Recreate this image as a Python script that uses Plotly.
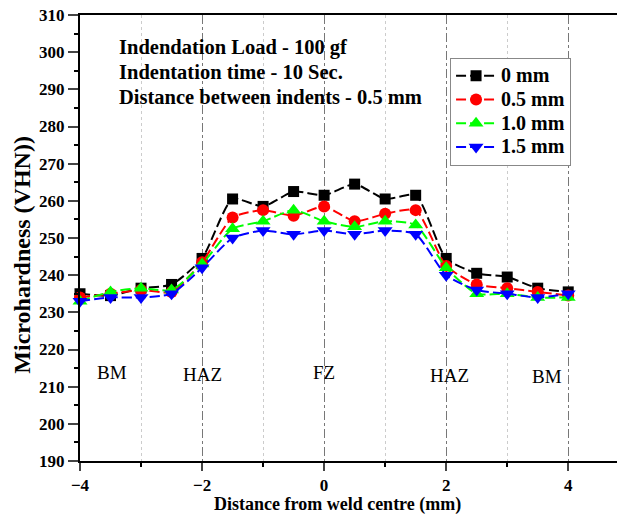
import plotly.graph_objects as go

x_mm = [-4, -3.5, -3, -2.5, -2, -1.5, -1, -0.5, 0, 0.5, 1, 1.5, 2, 2.5, 3, 3.5, 4]
hv_0 = [235, 234.5, 236.5, 237.5, 244.5, 260.5, 258.5, 262.5, 261.5, 264.5, 260.5, 261.5, 244.5, 240.5, 239.5, 236.5, 235.5]
hv_05 = [234, 235, 236, 235.5, 243.5, 255.5, 257.5, 256, 258.5, 254.5, 256.5, 257.5, 242.5, 237.5, 236.5, 235.5, 234.5]
hv_10 = [233, 235.5, 236.5, 236, 243, 252.5, 254.5, 257.5, 254.5, 253, 254.5, 253.5, 242, 235, 235, 234, 234]
hv_15 = [233, 234, 234, 235, 242, 250, 252, 251, 252, 251, 252, 251, 240, 236, 235, 234, 235]
series_names = ["0 mm", "0.5 mm", "1.0 mm", "1.5 mm"]
series_vals = [hv_0, hv_05, hv_10, hv_15]
colors = ["#000000", "#ff0000", "#00ff00", "#0000ff"]
symbols = ["square", "circle", "triangle-up", "triangle-down"]
msizes = [11, 12, 13, 13]

zone_labels = ["BM", "HAZ", "FZ", "HAZ", "BM"]
zone_x = [-3.48, -1.99, 0, 2.06, 3.66]
zone_y = [213.8, 213.2, 213.8, 212.9, 212.7]

info_lines = ["Indendation Load - 100 gf", "Indentation time - 10 Sec.", "Distance between indents - 0.5 mm"]
x_title = "Distance from weld centre (mm)"
y_title = "Microhardness (VHN))"

FONT = "Liberation Serif"

fig = go.Figure()
for name, vals, c, s, ms in zip(series_names, series_vals, colors, symbols, msizes):
    fig.add_trace(go.Scatter(
        x=x_mm, y=vals, name='<span style="font-size:20px">' + name + '</span>',
        mode="lines+markers",
        line=dict(color=c, width=2, shape="spline", smoothing=0.6, dash="10px,4px"),
        marker=dict(symbol=s, size=ms, color=c, line=dict(width=0)),
        cliponaxis=False,
    ))

for t, xx, yy in zip(zone_labels, zone_x, zone_y):
    fig.add_annotation(x=xx, y=yy, text=t, showarrow=False,
                       font=dict(family=FONT, size=19, color="black"))

for i, t in enumerate(info_lines):
    fig.add_annotation(xref="paper", yref="paper", x=0.068, y=0.928 - i * 0.056,
                       text=t, showarrow=False, xanchor="left", yanchor="middle",
                       font=dict(family=FONT, size=20.5, color="black", weight="bold"))

fig.add_annotation(xref="paper", yref="paper", x=0.473, y=-0.098, text=x_title,
                   showarrow=False, xanchor="center", yanchor="middle",
                   font=dict(family=FONT, size=18, color="black", weight="bold"))
fig.add_annotation(xref="paper", yref="paper", x=-0.108, y=0.463, text=y_title,
                   showarrow=False, xanchor="center", yanchor="middle", textangle=-90,
                   font=dict(family=FONT, size=24, color="black", weight="bold"))

# the page body adds an 8px offset, so margins are shifted to compensate
fig.update_layout(
    width=625, height=517,
    margin=dict(l=72, r=8, t=7, b=64, autoexpand=False),
    paper_bgcolor="white", plot_bgcolor="white",
    font=dict(family=FONT, color="black"),
    showlegend=True,
    legend=dict(x=0.679, y=0.904, xanchor="left", yanchor="top",
                bordercolor="#888888", borderwidth=1, bgcolor="white",
                font=dict(family=FONT, size=16, weight="bold"),
                tracegroupgap=0, itemwidth=40),
    xaxis=dict(
        range=[-4, 4.93], tick0=-4, dtick=2, ticks="outside", ticklen=8, tickwidth=2,
        showline=True, linecolor="black", linewidth=2, mirror=True,
        showgrid=True, gridcolor="#777777", griddash="dashdot", gridwidth=1,
        zeroline=False, automargin=False,
        tickfont=dict(family=FONT, size=17, weight="bold"),
        minor=dict(dtick=1, tick0=-4, ticks="outside", ticklen=4, tickwidth=2, tickcolor="black",
                   showgrid=True, gridcolor="#cccccc", griddash="dot", gridwidth=1),
    ),
    yaxis=dict(
        range=[190, 310], tick0=190, dtick=10, ticks="outside", ticklen=10, tickwidth=2,
        showline=True, linecolor="black", linewidth=2,
        showgrid=False, zeroline=False, automargin=False, ticklabeloverflow="allow",
        tickfont=dict(family=FONT, size=17, weight="bold"),
        minor=dict(dtick=5, ticks="outside", ticklen=4, tickwidth=2, tickcolor="black"),
    ),
)

fig.write_html("out.html")
